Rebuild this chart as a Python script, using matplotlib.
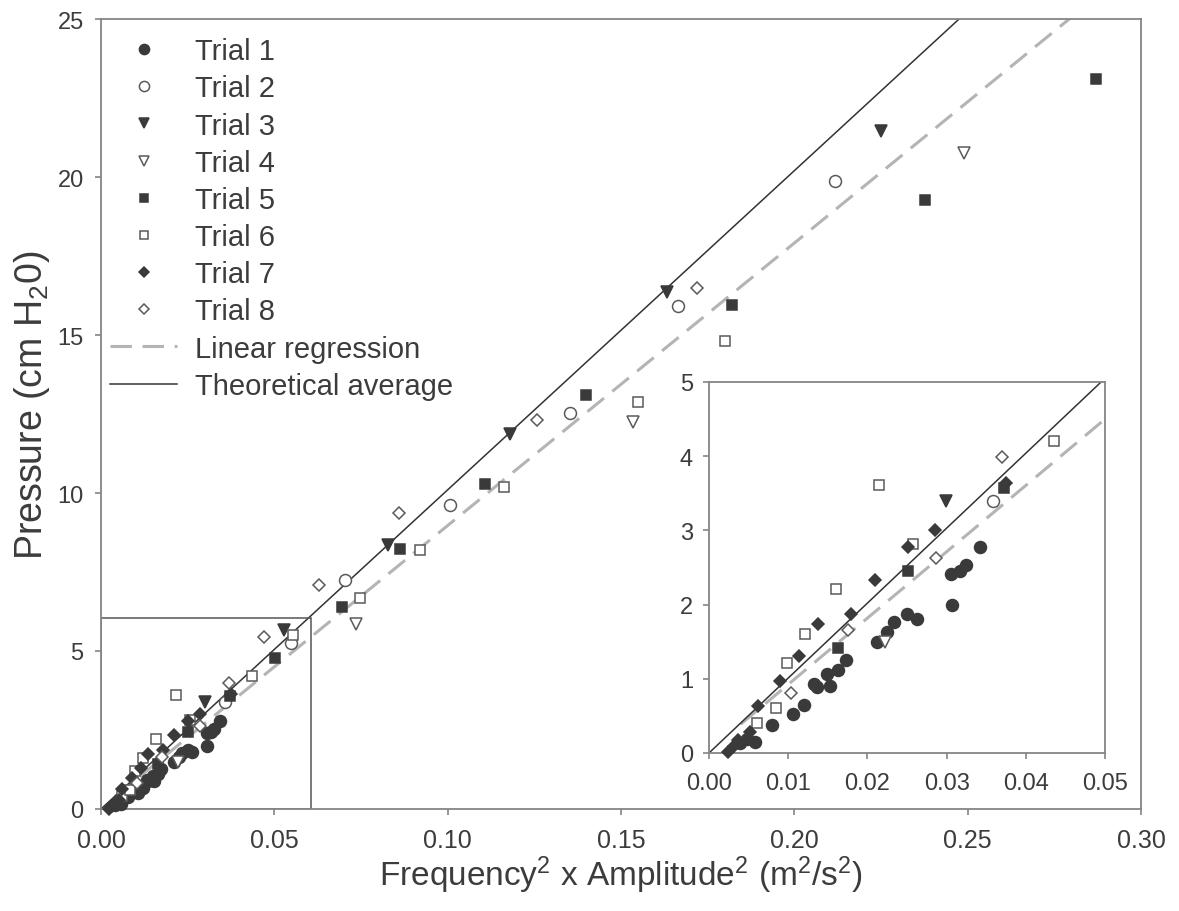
import matplotlib
matplotlib.use("Agg")
import matplotlib.pyplot as plt
import numpy as np
from matplotlib.patches import Rectangle

plt.rcParams['font.family'] = ['Liberation Sans', 'DejaVu Sans']
plt.rcParams['mathtext.fontset'] = 'custom'
plt.rcParams['mathtext.rm'] = 'Liberation Sans'

# ---------------- data ----------------
t1_x = [0.0039, 0.0048, 0.0058, 0.0079, 0.0106, 0.0120, 0.0132, 0.0136, 0.0149, 0.0153,
        0.0163, 0.0173, 0.0212, 0.0225, 0.0233, 0.0250, 0.0263, 0.0307, 0.0306, 0.0317,
        0.0325, 0.0342]
t1_y = [0.13, 0.19, 0.15, 0.38, 0.52, 0.65, 0.93, 0.89, 1.06, 0.90,
        1.12, 1.26, 1.49, 1.63, 1.76, 1.87, 1.81, 2.00, 2.41, 2.45,
        2.54, 2.77]
t2_x = [0.0358, 0.0548, 0.0704, 0.1008, 0.1352, 0.1663, 0.2118]
t2_y = [3.40, 5.24, 7.26, 9.63, 12.52, 15.91, 19.88]
t3_x = [0.0299, 0.0529, 0.0827, 0.1181, 0.1634, 0.2250]
t3_y = [3.39, 5.67, 8.37, 11.87, 16.37, 21.47]
t4_x = [0.0222, 0.0735, 0.1535, 0.2488]
t4_y = [1.49, 5.85, 12.26, 20.76]
t5_x = [0.0163, 0.0251, 0.0372, 0.0502, 0.0695, 0.0863, 0.1109, 0.1398, 0.1819, 0.2376, 0.2870]
t5_y = [1.41, 2.45, 3.57, 4.78, 6.40, 8.23, 10.27, 13.10, 15.95, 19.27, 23.10]
t6_x = [0.0061, 0.0085, 0.0099, 0.0121, 0.0160, 0.0215, 0.0258, 0.0435, 0.0553, 0.0746,
        0.0919, 0.1162, 0.1550, 0.1801]
t6_y = [0.40, 0.61, 1.21, 1.61, 2.21, 3.61, 2.81, 4.21, 5.51, 6.69,
        8.21, 10.20, 12.89, 14.82]
t7_x = [0.0024, 0.0031, 0.0037, 0.0052, 0.0062, 0.0090, 0.0114, 0.0137, 0.0179, 0.0210,
        0.0251, 0.0285, 0.0375]
t7_y = [0.01, 0.09, 0.17, 0.28, 0.63, 0.97, 1.31, 1.74, 1.88, 2.33,
        2.77, 3.00, 3.64]
t8_x = [0.0104, 0.0176, 0.0287, 0.0370, 0.0470, 0.0629, 0.0861, 0.1258, 0.1718]
t8_y = [0.81, 1.66, 2.63, 3.99, 5.43, 7.09, 9.36, 12.31, 16.48]

trials = [("Trial 1", t1_x, t1_y), ("Trial 2", t2_x, t2_y), ("Trial 3", t3_x, t3_y),
          ("Trial 4", t4_x, t4_y), ("Trial 5", t5_x, t5_y), ("Trial 6", t6_x, t6_y),
          ("Trial 7", t7_x, t7_y), ("Trial 8", t8_x, t8_y)]

regression_slope = 89.4
regression_intercept = 0.03
regression_x_start = 0.004
theory_slope = 101.0

zoom_box_w = 0.0605
zoom_box_h = 6.05

# ---------------- styles ----------------
dark = '#3a3a3a'
open_edge = '#5a5a5a'
text_c = '#3c3c3c'
spine_c = '#858585'
marker_style = {
    "Trial 1": dict(marker='o', ms=8.6, mfc=dark, mec=dark),
    "Trial 2": dict(marker='o', ms=8.6, mfc='white', mec=open_edge),
    "Trial 3": dict(marker='v', ms=8.4, mfc=dark, mec=dark),
    "Trial 4": dict(marker='v', ms=8.4, mfc='white', mec=open_edge),
    "Trial 5": dict(marker='s', ms=7.4, mfc=dark, mec=dark),
    "Trial 6": dict(marker='s', ms=7.4, mfc='white', mec=open_edge),
    "Trial 7": dict(marker='D', ms=6.4, mfc=dark, mec=dark),
    "Trial 8": dict(marker='D', ms=6.4, mfc='white', mec=open_edge),
}

fig = plt.figure(figsize=(11.79, 9.12), dpi=100)
W, H = 1179, 912
ax = fig.add_axes([101 / W, 1 - 810 / H, 1040 / W, 790 / H])
axin = fig.add_axes([709 / W, 1 - 754 / H, 396 / W, 371 / H])

line_x = np.array([0.0, 0.30])
reg_x = np.array([regression_x_start, 0.30])


def draw(a, xmax, ymax):
    handles = []
    for name, xs, ys in trials:
        xs = np.array(xs)
        ys = np.array(ys)
        keep = (xs <= xmax) & (ys <= ymax)
        h, = a.plot(xs[keep], ys[keep], ls='none', mew=1.1, clip_on=False,
                    zorder=3, label=name, **marker_style[name])
        handles.append(h)
    hr, = a.plot(reg_x, regression_slope * reg_x + regression_intercept,
                 color='#b4b4b4', lw=2.2, dashes=(7, 3.5), zorder=2,
                 label='Linear regression')
    ht, = a.plot(line_x, theory_slope * line_x, color='#333333', lw=1.1, zorder=2,
                 label='Theoretical average')
    handles += [hr, ht]
    for s in a.spines.values():
        s.set_color(spine_c)
        s.set_linewidth(1.3)
    a.tick_params(direction='out', color=spine_c, width=1.2, length=4.5,
                  labelcolor=text_c)
    return handles


handles = draw(ax, 1.0, 100.0)
ax.set_xlim(0, 0.30)
ax.set_ylim(0, 25)
ax.set_xticks(np.arange(0, 0.301, 0.05))
ax.set_yticks(np.arange(0, 26, 5))
ax.set_xticklabels(['%.2f' % v for v in np.arange(0, 0.301, 0.05)])
ax.tick_params(axis='x', labelsize=18, pad=9)
ax.tick_params(axis='y', labelsize=17, pad=8)
ax.add_patch(Rectangle((0, 0), zoom_box_w, zoom_box_h, fill=False,
                       edgecolor='#555555', lw=1.1, zorder=2))
ax.set_xlabel('Frequency$\\mathregular{^2}$ x Amplitude$\\mathregular{^2}$ '
              '(m$\\mathregular{^2}$/s$\\mathregular{^2}$)',
              fontsize=24, color=text_c, labelpad=1)
ax.set_ylabel('Pressure (cm H$\\mathregular{_2}$0)', fontsize=27, color=text_c)
ax.yaxis.set_label_coords(-0.047, 0.513)

ax.legend(handles=handles, loc='upper left', bbox_to_anchor=(0.009, 0.977),
          frameon=False, fontsize=21, handlelength=2.3, handletextpad=0.6,
          labelspacing=0.315, borderaxespad=0, borderpad=0, labelcolor=text_c,
          markerscale=0.85)

axin.set_facecolor('white')
draw(axin, 0.05, 5.0)
axin.set_xlim(0, 0.05)
axin.set_ylim(0, 5)
axin.set_xticks(np.arange(0, 0.0501, 0.01))
axin.set_xticklabels(['%.2f' % v for v in np.arange(0, 0.0501, 0.01)])
axin.set_yticks(range(0, 6))
axin.tick_params(labelsize=17)
axin.tick_params(axis='x', pad=9)
axin.tick_params(axis='y', pad=7)

fig.savefig('out.png', dpi=100)
